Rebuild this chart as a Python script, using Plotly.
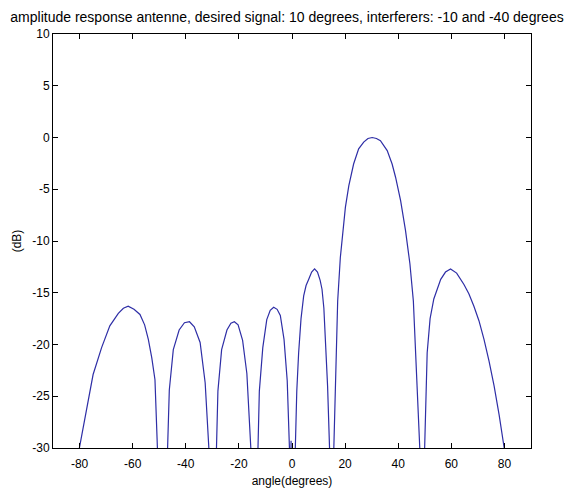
import plotly.graph_objects as go

# Angle (degrees) and amplitude response (dB)
angle_deg = [
    -80.5, -77.5, -74.9, -71.7, -68.6, -65.4, -63.5, -61.7, -59.5, -57.25, -55.5, -54.1, -52.8, -51.6, -50.3,
    -48.6,
    -46.9, -46.2, -44.7, -42.5, -40.5, -38.6, -36.8, -34.6, -32.7, -31.2,
    -29.9,
    -28.6, -27.9, -26.5, -24.5, -23.0, -21.7, -20.3, -18.6, -17.0, -15.4,
    -14.2,
    -13.0, -12.3, -11.0, -9.5, -8.2, -6.9, -5.6, -4.4, -3.0, -1.8, -0.9,
    -0.7, -0.35, 0.0,
    1.2, 1.8, 2.5, 3.4, 4.4, 5.3, 6.3, 7.4, 8.5, 9.6, 10.6, 11.3, 12.0, 12.6, 13.4, 14.2,
    15.0,
    15.7, 16.4, 17.2, 18.2, 19.2, 20.1, 21.4, 23.2, 25.1, 27.0, 28.6, 30.2, 31.8, 33.3, 35.85, 37.7, 39.0,
    40.9, 42.75, 44.4, 45.7, 46.6, 47.4, 48.2,
    49.0,
    49.9, 50.9, 52.0, 53.4, 56.0, 57.8, 59.7, 62.0, 64.75, 66.6, 68.5, 70.4, 72.3, 74.2, 76.1, 78.0, 80.1, 80.5,
]
response_db = [
    -30.6, -26.5, -22.9, -20.3, -18.2, -17.0, -16.5, -16.3, -16.6, -17.1, -18.1, -19.5, -21.3, -23.4, -30.5,
    -45.0,
    -30.5, -24.4, -20.5, -18.6, -17.9, -17.8, -18.3, -19.8, -23.7, -30.5,
    -45.0,
    -30.5, -24.5, -20.5, -18.6, -17.95, -17.8, -18.1, -19.6, -22.8, -30.5,
    -45.0,
    -30.5, -24.5, -20.3, -17.6, -16.7, -16.4, -16.6, -17.2, -19.5, -23.5, -30.5,
    -38.0, -29.3, -38.0,
    -30.5, -24.5, -20.8, -17.5, -15.3, -14.3, -13.7, -13.0, -12.7, -13.0, -13.8, -14.66, -16.5, -19.2, -24.0, -30.5,
    -45.0,
    -30.5, -22.5, -15.8, -11.6, -9.0, -6.75, -4.66, -2.56, -1.1, -0.45, -0.1, 0.0, -0.1, -0.3, -1.27, -2.56, -3.84,
    -6.1, -9.0, -12.2, -15.8, -20.5, -25.5, -30.5,
    -45.0,
    -30.5, -20.8, -17.5, -15.6, -13.7, -13.0, -12.7, -13.1, -14.2, -15.1, -16.3, -17.7, -19.5, -21.6, -24.0, -26.8, -30.2, -31.0,
]

x_ticks = [-80, -60, -40, -20, 0, 20, 40, 60, 80]
y_ticks = [-30, -25, -20, -15, -10, -5, 0, 5, 10]

title_text = "amplitude response antenne, desired signal: 10 degrees, interferers: -10 and -40 degrees"
x_label = "angle(degrees)"
y_label = "(dB)"

FONT = "Liberation Sans, Arial, Helvetica, sans-serif"

fig = go.Figure()
fig.add_trace(go.Scatter(
    x=angle_deg, y=response_db, mode="lines",
    line=dict(color="#2e2ea6", width=1.2),
    showlegend=False, hoverinfo="skip",
))

axis_common = dict(
    showgrid=False, zeroline=False, automargin=False,
    showline=True, linecolor="black", linewidth=1,
    mirror="ticks", ticks="inside", ticklen=5, tickwidth=1, tickcolor="black",
    tickfont=dict(family=FONT, size=12, color="black"),
)

fig.update_layout(
    width=572, height=491,
    margin=dict(l=53, r=41, t=34, b=43, pad=0),
    paper_bgcolor="white", plot_bgcolor="white",
    font=dict(family=FONT, color="black"),
    title=dict(text=title_text, x=287 / 572, xref="container", xanchor="center",
               y=1 - 17 / 491, yref="container", yanchor="middle",
               font=dict(family=FONT, size=14, color="black")),
    xaxis=dict(range=[-90, 90], tickmode="array", tickvals=x_ticks,
               ticktext=[str(v) for v in x_ticks], ticklabelstandoff=5,
               title=dict(text=x_label, standoff=6, font=dict(family=FONT, size=12, color="black")),
               **axis_common),
    yaxis=dict(range=[-30, 10], tickmode="array", tickvals=y_ticks,
               ticktext=[str(v) for v in y_ticks],
               title=dict(text=y_label, standoff=8, font=dict(family=FONT, size=12, color="black")),
               **axis_common),
)

fig.write_html("out.html")
